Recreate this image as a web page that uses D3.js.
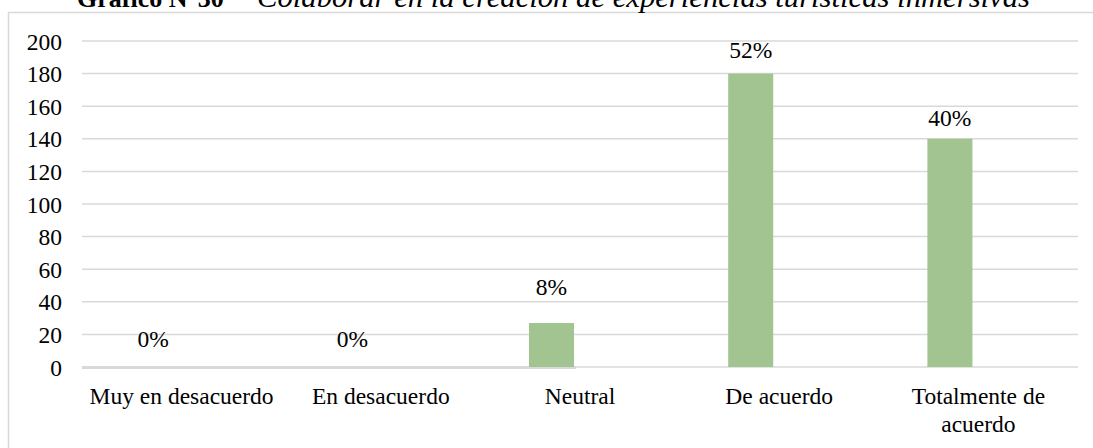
<!DOCTYPE html>
<html>
<head>
<meta charset="utf-8">
<script src="https://cdn.jsdelivr.net/npm/d3@7"></script>
<style>
  html, body { margin: 0; padding: 0; background: #fff; }
  svg { display: block; }
  text { font-family: "Liberation Serif", "Times New Roman", serif; fill: #000; }
</style>
</head>
<body>
<svg id="chart" width="1093" height="448"></svg>
<script>
// ---- data ----
const categories = ["Muy en desacuerdo", "En desacuerdo", "Neutral", "De acuerdo", "Totalmente de acuerdo"];
const counts = [0, 0, 27, 180, 140];
const percentLabels = ["0%", "0%", "8%", "52%", "40%"];
const yTicks = [0, 20, 40, 60, 80, 100, 120, 140, 160, 180, 200];
const titleBold = "Gráfico N°30";
const titleItalic = "Colaborar en la creación de experiencias turísticas inmersivas";

// ---- layout / style ----
const W = 1093, H = 448;
const plot = { left: 82, right: 1078, top: 41, bottom: 367 };
const labelLift = [20, 20, 28, 15.5, 12.5]; // label baseline distance above bar top
const barColor = "#a1c490";
const gridColor = "#d9d9d9";
const fontSize = 23.5;

const svg = d3.select("#chart");

// frame
svg.append("rect")
  .attr("x", 8.5).attr("y", 12.5)
  .attr("width", W + 20).attr("height", H + 20)
  .attr("fill", "none").attr("stroke", gridColor).attr("stroke-width", 1.5);

// title (partly cut off at top)
const title = svg.append("text").attr("x", 77).attr("y", 7).attr("font-size", 26);
title.append("tspan").attr("font-weight", "bold").text(titleBold);
title.append("tspan").attr("x", 257).attr("font-style", "italic").attr("font-size", 30)
  .attr("textLength", 773).attr("lengthAdjust", "spacingAndGlyphs").text(titleItalic);

const x = d3.scaleBand().domain(categories).range([plot.left, plot.right]);
const xInner = d3.scaleBand().domain(["Frecuencia", "Otro"]).range([0, x.bandwidth()])
  .paddingInner(0.21).paddingOuter(0.853);
const y = d3.scaleLinear().domain([0, 200]).range([plot.bottom, plot.top]);

// gridlines
svg.append("g").selectAll("line").data(yTicks).join("line")
  .attr("x1", plot.left).attr("x2", plot.right)
  .attr("y1", d => y(d)).attr("y2", d => y(d))
  .attr("stroke", gridColor).attr("stroke-width", 1.5);

// thicker baseline segment
const lastNonEmpty = categories[2];
svg.append("line")
  .attr("x1", plot.left)
  .attr("x2", x(lastNonEmpty) + xInner("Frecuencia") + xInner.bandwidth() + 2)
  .attr("y1", y(0) + 0.5).attr("y2", y(0) + 0.5)
  .attr("stroke", gridColor).attr("stroke-width", 3);

// y axis labels
const yAxis = d3.axisLeft(y).tickValues(yTicks).tickSize(0).tickPadding(0);
const gy = svg.append("g").attr("transform", `translate(${plot.left - 20},0)`).call(yAxis);
gy.select(".domain").remove();
gy.selectAll("text")
  .attr("font-size", fontSize)
  .attr("font-family", "Liberation Serif, Times New Roman, serif")
  .attr("fill", "#000").attr("dy", "0.34em");

// bars
svg.append("g").selectAll("rect").data(categories).join("rect")
  .attr("x", d => x(d) + xInner("Frecuencia"))
  .attr("width", xInner.bandwidth())
  .attr("y", (d, i) => y(counts[i]))
  .attr("height", (d, i) => y(0) - y(counts[i]))
  .attr("fill", barColor);

// value labels
svg.append("g").selectAll("text").data(categories).join("text")
  .attr("x", d => x(d) + xInner("Frecuencia") + xInner.bandwidth() / 2)
  .attr("y", (d, i) => y(counts[i]) - labelLift[i])
  .attr("text-anchor", "middle")
  .attr("font-size", fontSize)
  .text((d, i) => percentLabels[i]);

// x labels (wrapped)
const wrapWidth = 195;
const xl = svg.append("g").selectAll("text").data(categories).join("text")
  .attr("text-anchor", "middle")
  .attr("font-size", fontSize)
  .attr("x", d => x(d) + x.bandwidth() / 2)
  .attr("y", 404);
xl.each(function(d) {
  const t = d3.select(this);
  const words = d.split(" ");
  let line = [], lines = [];
  const probe = t.append("tspan");
  words.forEach(w => {
    const test = line.concat(w).join(" ");
    probe.text(test);
    if (probe.node().getComputedTextLength() > wrapWidth && line.length) {
      lines.push(line.join(" "));
      line = [w];
    } else line.push(w);
  });
  lines.push(line.join(" "));
  probe.remove();
  lines.forEach((ln, k) => {
    t.append("tspan").attr("x", x(d) + x.bandwidth() / 2).attr("dy", k === 0 ? 0 : 28).text(ln);
  });
});
</script>
</body>
</html>
